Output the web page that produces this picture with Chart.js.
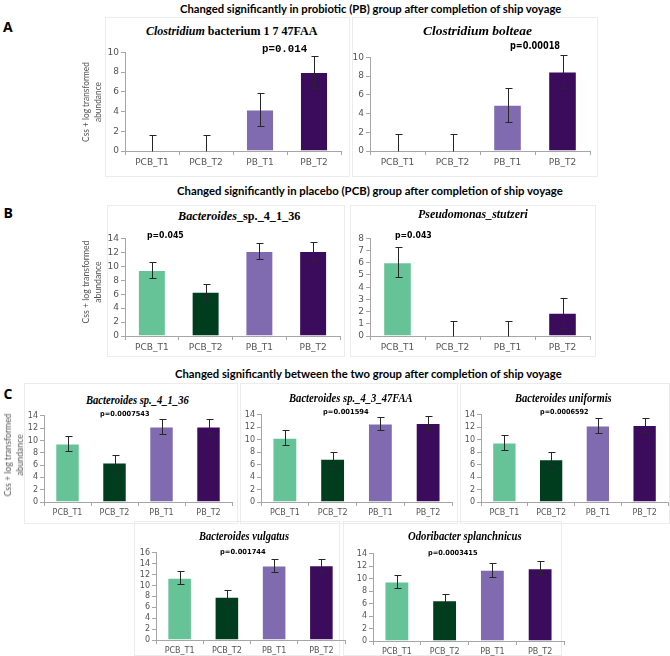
<!DOCTYPE html>
<html><head><meta charset="utf-8">
<script src="https://cdn.jsdelivr.net/npm/chart.js@4.4.0/dist/chart.umd.min.js"></script>
<style>
html,body{margin:0;padding:0;background:#fff;}
#fig{position:relative;width:670px;height:656px;overflow:hidden;background:#fff;}
.t{position:absolute;white-space:nowrap;transform-origin:0 50%;line-height:1.15;}
.yl{position:absolute;white-space:nowrap;text-align:center;transform-origin:50% 50%;line-height:12px;}
.frame{position:absolute;border:1px solid #ececec;box-sizing:border-box;}
canvas{position:absolute;}
</style></head><body><div id="fig"></div>
<script>
// ---- data ----
const categories = ['PCB_T1', 'PCB_T2', 'PB_T1', 'PB_T2'];
const barColors = ['#66c397', '#003d1e', '#806bb0', '#3b0b5c'];

const a1Values = [0, 0, 4.2, 8.0];     const a1Err = [1.65, 1.65, 1.65, 1.65];
const a2Values = [0, 0, 4.95, 8.5];    const a2Err = [1.8, 1.8, 1.8, 1.8];
const b1Values = [9.45, 6.35, 12.2, 12.2]; const b1Err = [1.2, 1.15, 1.2, 1.25];
const b2Values = [6.05, 0, 0, 1.9];    const b2Err = [1.25, 1.2, 1.2, 1.25];
const c1Values = [9.5, 6.4, 12.25, 12.25]; const c1Err = [1.15, 1.2, 1.2, 1.2];
const c2Values = [10.3, 6.95, 12.6, 12.7]; const c2Err = [1.2, 1.1, 1.1, 1.1];
const c3Values = [9.55, 6.85, 12.3, 12.35]; const c3Err = [1.15, 1.2, 1.15, 1.15];
const c4Values = [11.4, 7.95, 13.65, 13.7]; const c4Err = [1.2, 1.15, 1.15, 1.15];
const c5Values = [9.55, 6.55, 11.45, 11.7]; const c5Err = [1.0, 1.05, 1.1, 1.1];

const yMaxA = 10, yStepA = 2;
const yMaxB1 = 14, yStepB1 = 2;
const yMaxB2 = 8, yStepB2 = 1;
const yMaxC = 14, yStepC = 2;
const yMaxC4 = 16, yStepC4 = 2;

// ---- helpers ----
const fig = document.getElementById('fig');
const axisColor = '#a6a6a6';
const tickColor = '#555555';

function addText(html, cx, cy, w, font, color) {
  const d = document.createElement('div');
  d.className = 't';
  d.innerHTML = html;
  d.style.font = font;
  d.style.color = color || '#000';
  fig.appendChild(d);
  const aw = d.offsetWidth, ah = d.offsetHeight;
  const tw = w || aw;
  d.style.left = (cx - tw / 2) + 'px';
  d.style.top = (cy - ah / 2) + 'px';
  if (w) d.style.transform = 'scaleX(' + (w / aw) + ')';
}

function addYLabel(cx, cy, len) {
  const d = document.createElement('div');
  d.className = 'yl';
  d.innerHTML = 'Css + log transformed<br>abundance';
  d.style.font = '10px Lato';
  d.style.lineHeight = '12px';
  d.style.color = tickColor;
  fig.appendChild(d);
  const aw = d.offsetWidth, ah = d.offsetHeight;
  d.style.left = (cx - aw / 2) + 'px';
  d.style.top = (cy - ah / 2) + 'px';
  d.style.transform = 'rotate(-90deg) scaleX(' + (len / aw) + ')';
}

function addFrame(l, t, r, b) {
  const d = document.createElement('div');
  d.className = 'frame';
  d.style.left = l + 'px'; d.style.top = t + 'px';
  d.style.width = (r - l) + 'px'; d.style.height = (b - t) + 'px';
  fig.appendChild(d);
}

const errPlugin = {
  id: 'errbars',
  afterDatasetsDraw(chart) {
    const ctx = chart.ctx;
    const ds = chart.data.datasets[0];
    const meta = chart.getDatasetMeta(0);
    const y = chart.scales.y;
    ctx.save();
    ctx.strokeStyle = '#262626';
    ctx.lineWidth = 1;
    meta.data.forEach((bar, i) => {
      const v = ds.data[i], e = ds.errors[i];
      const x = Math.round(bar.x) + 0.5;
      const hi = Math.round(y.getPixelForValue(v + e)) + 0.5;
      const lo = Math.round(y.getPixelForValue(Math.max(0, v - e))) + 0.5;
      ctx.beginPath();
      ctx.moveTo(x, lo); ctx.lineTo(x, hi);
      ctx.moveTo(x - 3, hi); ctx.lineTo(x + 4, hi);
      if (v - e > 0) { ctx.moveTo(x - 3, lo); ctx.lineTo(x + 4, lo); }
      ctx.stroke();
    });
    ctx.restore();
  }
};

function makeChart(o) {
  const W = 30, H = 22, padT = 6, padR = 2;
  const left = o.x0 - W, top = o.yTop - padT;
  const width = o.x1 + padR - left, height = o.y0 + H - top;
  const c = document.createElement('canvas');
  c.width = width; c.height = height;
  c.style.left = left + 'px'; c.style.top = top + 'px';
  c.style.width = width + 'px'; c.style.height = height + 'px';
  fig.appendChild(c);
  const fs = o.fs || 9;
  new Chart(c, {
    type: 'bar',
    data: {
      labels: categories,
      datasets: [{
        data: o.values,
        errors: o.err,
        backgroundColor: barColors,
        borderColor: 'rgba(255,255,255,0.35)',
        borderWidth: 1,
        barPercentage: 0.52,
        categoryPercentage: 1
      }]
    },
    options: {
      responsive: false,
      animation: false,
      devicePixelRatio: 1,
      layout: { padding: { top: padT, right: padR, left: 0, bottom: 0 } },
      plugins: { legend: { display: false }, tooltip: { enabled: false }, title: { display: false } },
      scales: {
        x: {
          grid: { drawOnChartArea: false, tickLength: 4, color: axisColor, offset: true },
          border: { color: axisColor },
          ticks: { font: { family: '"DejaVu Sans"', size: fs }, color: tickColor, maxRotation: 0, minRotation: 0, autoSkip: false, padding: 2 },
          afterFit(s) { s.height = H; }
        },
        y: {
          min: 0, max: o.max,
          grid: { drawOnChartArea: false, tickLength: 4, color: axisColor },
          border: { color: axisColor },
          ticks: { stepSize: o.step, autoSkip: false, font: { family: '"DejaVu Sans"', size: fs }, color: tickColor, padding: 2 },
          afterFit(s) { s.width = W; }
        }
      }
    },
    plugins: [errPlugin]
  });
}

// ---- frames ----
addFrame(105, 17, 350, 177);
addFrame(352, 17, 598, 177);
addFrame(107, 205, 345, 357);
addFrame(350, 205, 596, 357);
addFrame(24, 383, 238, 524);
addFrame(240, 383, 458, 524);
addFrame(460, 383, 670, 524);
addFrame(134, 521, 340, 656);
addFrame(343, 521, 562, 656);

// ---- charts ----
makeChart({ x0: 125, x1: 341, yTop: 51, y0: 151, max: yMaxA, step: yStepA, values: a1Values, err: a1Err });
makeChart({ x0: 370, x1: 590, yTop: 56, y0: 151, max: yMaxA, step: yStepA, values: a2Values, err: a2Err });
makeChart({ x0: 125, x1: 340, yTop: 237, y0: 336, max: yMaxB1, step: yStepB1, values: b1Values, err: b1Err });
makeChart({ x0: 370, x1: 590, yTop: 237, y0: 336, max: yMaxB2, step: yStepB2, values: b2Values, err: b2Err });
makeChart({ x0: 44, x1: 232, yTop: 415, y0: 502, max: yMaxC, step: yStepC, values: c1Values, err: c1Err, fs: 8 });
makeChart({ x0: 261, x1: 452, yTop: 414, y0: 502, max: yMaxC, step: yStepC, values: c2Values, err: c2Err, fs: 8 });
makeChart({ x0: 481, x1: 668, yTop: 414, y0: 502, max: yMaxC, step: yStepC, values: c3Values, err: c3Err, fs: 8 });
makeChart({ x0: 156, x1: 345, yTop: 552, y0: 640, max: yMaxC4, step: yStepC4, values: c4Values, err: c4Err, fs: 8 });
makeChart({ x0: 373, x1: 564, yTop: 553, y0: 641, max: yMaxC, step: yStepC, values: c5Values, err: c5Err, fs: 8 });

// ---- headers / letters ----
const hFont = 'bold 12px Lato';
addText('Changed significantly in probiotic (PB) group after completion of ship voyage', 370, 8, 381, hFont);
addText('Changed significantly in placebo (PCB) group after completion of ship voyage', 370, 190, 386, hFont);
addText('Changed significantly between the two group after completion of ship voyage', 368, 373, 387, hFont);
addText('A', 8, 26, 0, 'bold 14px "Open Sans"');
addText('B', 8, 212, 0, 'bold 14px "Open Sans"');
addText('C', 8, 393, 0, 'bold 14px "Open Sans"');

// ---- chart titles ----
const tFontAB = 'bold 13px "Liberation Serif"';
const tFontC = 'bold italic 12px "Liberation Serif"';
addText('<i>Clostridium</i> bacterium 1 7 47FAA', 231, 31, 171, tFontAB);
addText('<i>Clostridium bolteae</i>', 477, 31, 109, tFontAB);
addText('<i>Bacteroides</i>_sp._4_1_36', 239, 216, 122, tFontAB);
addText('<i>Pseudomonas_stutzeri</i>', 473, 214, 110, tFontAB);
addText('Bacteroides sp._4_1_36', 137, 400, 103, tFontC);
addText('Bacteroides sp._4_3_47FAA', 351, 398, 124, tFontC);
addText('Bacteroides uniformis', 563, 398, 97, tFontC);
addText('Bacteroides vulgatus', 244, 536, 90, tFontC);
addText('Odoribacter splanchnicus', 465, 536, 114, tFontC);

// ---- p-values ----
addText('p=0.014', 284, 49, 45, 'bold 11px "Liberation Mono"');
addText('p=0.00018', 535, 45, 50, 'bold 10px "DejaVu Sans"');
addText('p=0.045', 165, 235, 37, 'bold 8px "DejaVu Sans"');
addText('p=0.043', 413, 235, 37, 'bold 8px "DejaVu Sans"');
addText('p=0.0007543', 125, 414, 50, 'bold 7px "DejaVu Sans"');
addText('p=0.001594', 346, 412, 46, 'bold 7px "DejaVu Sans"');
addText('p=0.0006592', 564, 412, 49, 'bold 7px "DejaVu Sans"');
addText('p=0.001744', 243, 552, 46, 'bold 7px "DejaVu Sans"');
addText('p=0.0003415', 453, 553, 50, 'bold 7px "DejaVu Sans"');

// ---- y-axis titles ----
addYLabel(91, 102, 80);
addYLabel(91, 282, 83);
addYLabel(13, 455, 83);
</script></body></html>
